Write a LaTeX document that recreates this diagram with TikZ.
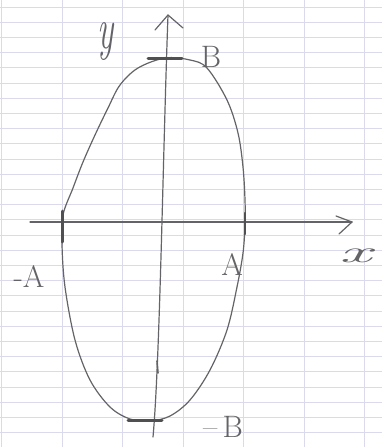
\documentclass[tikz,border=0pt]{standalone}
\usepackage{fontspec}
\begin{document}
\definecolor{pencil}{RGB}{100,100,104}
\definecolor{gridc}{RGB}{218,218,236}
\begin{tikzpicture}[x=1pt,y=-1pt,
  pen/.style={draw=pencil, line width=1.2pt, line cap=round, line join=round},
  heavy/.style={draw=pencil!80!black, line width=3pt, line cap=round},
  gridline/.style={draw=gridc, line width=0.7pt},
  lbl/.style={text=pencil, inner sep=0pt, font=\fontsize{31}{33}\selectfont}]
\useasboundingbox (0,0) rectangle (382,447);
\fill[white] (0,0) rectangle (382,447);
% graph paper
\foreach \k in {0,...,28} \draw[gridline] (0,7+15.2*\k) -- (382,7+15.2*\k);
\foreach \xx in {1.5,62,122.5,183,243.5,304,364.5} \draw[gridline] (\xx,0) -- (\xx,447);
% coordinates
\coordinate (xs) at (30,222);
\coordinate (xe) at (352,222);
\coordinate (xa1) at (336,216);
\coordinate (xa2) at (339,234);
\coordinate (yb) at (153,437);
\coordinate (yt) at (168,15);
\coordinate (ya1) at (155,30);
\coordinate (ya2) at (183,28);
% x axis
\draw[pen] (xs) -- (xe);
\draw[pen] (xa1) -- (xe) -- (xa2);
% y axis
\draw[pen] (yb) .. controls (160,360) and (163,150) .. (yt);
\draw[pen] (ya1) -- (yt) -- (ya2);
% ellipse
\draw[pen] plot[smooth cycle, tension=0.55] coordinates {
 (165,58) (190,60) (207,68) (227,100) (238,133) (243,167) (245,200)
 (245,225) (243,253) (237,287) (227,330) (210,370) (190,400) (170,416)
 (150,421) (130,419) (110,407) (90,380) (75,340) (65,287) (62,245)
 (63,215) (73,188) (83,162) (95,135) (108,108) (120,85) (138,68)};
% heavy tick marks
\draw[heavy] (148,58) -- (182,58);
\draw[heavy] (128,420) -- (162,420);
\draw[heavy] (62,211) -- (62,242);
\draw[heavy, line width=2.4pt] (245,213) -- (245,234);
\draw[pen, line width=1.6pt] (157,361) -- (158,373);
% labels
\node[lbl, xscale=1.1, yscale=1.9] (ylab) at (106,42) {\textit{y}};
\node[lbl] (blab) at (211,57) {B};
\node[lbl] (malab) at (29,277) {-A};
\node[lbl] (alab) at (232,265) {A};
\node[lbl, xscale=2.3] (xlab) at (357,256) {\textit{x}};
\node[lbl] (mblab) at (223,427) {--\,B};
\end{tikzpicture}
\end{document}
